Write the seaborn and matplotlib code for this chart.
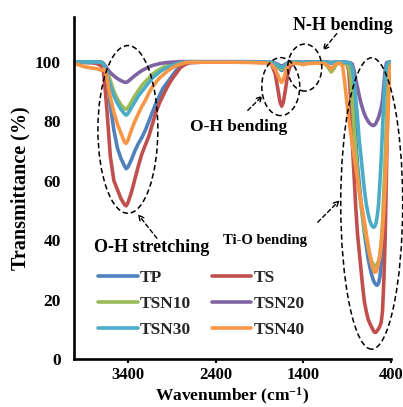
import numpy as np
import pandas as pd
import matplotlib
matplotlib.use("Agg")
import matplotlib.pyplot as plt
from matplotlib.patches import Ellipse
import seaborn as sns

# FTIR spectra of the TiO2-based samples (wavenumber in cm^-1, transmittance in %)
wavenumber = [
    4000, 3900, 3800, 3750, 3700, 3680, 3660, 3640, 3620, 3600, 3560, 3520, 3480, 3440, 3420, 3400,
    3360, 3320, 3280, 3240, 3200, 3160, 3120, 3080, 3040, 3000, 2950, 2900, 2850, 2800, 2750, 2700,
    2500, 2200, 2000, 1800, 1760, 1720, 1690, 1665, 1645, 1625, 1600, 1575, 1550, 1500, 1440, 1400,
    1360, 1250, 1150, 1110, 1080, 1050, 1020,
    980, 950, 930, 900, 880, 860, 840, 820, 800, 780, 760, 740, 720, 700, 680, 660, 640, 620, 600,
    585, 570, 555, 540, 525, 510, 495, 480, 465, 450, 435, 420, 410, 400,
]

tp = [
    99.8, 99.8, 99.7, 99.6, 99.5, 99, 97, 94.5, 90, 85, 77, 71, 67.5, 65, 64, 64.5,
    67, 70, 72.5, 74.5, 77, 80, 83, 86, 88.5, 91, 93, 95, 97, 98.5, 99.3, 99.8,
    99.9, 99.9, 99.9, 99.8, 99.6, 99, 98.2, 97.5, 97, 97.5, 98.5, 99.3, 99.7, 99.8, 99.8, 99.7,
    99.8, 99.8, 99.8, 99.7, 99.6, 99.7, 99.8,
    99.8, 99.8, 99.7, 99.5, 99.2, 99, 95, 84, 74, 65, 59, 52.5, 47, 42, 38, 34, 31, 28.5, 26.5,
    25.6, 25, 24.8, 25.5, 27.5, 32, 39, 50, 63, 76, 89, 97, 99.3, 99.6,
]

ts = [
    99.8, 99.7, 99.6, 99.3, 98.5, 97, 91, 84, 76, 68, 60, 57, 54, 52, 51.5, 52.5,
    56, 60.5, 65, 69, 72, 75, 79, 83, 86, 88.5, 91.5, 94, 96, 98, 99, 99.6,
    99.9, 99.9, 99.8, 99.7, 99, 96, 91, 86.5, 85, 86.5, 91, 96, 98.5, 99.5, 99.6, 99.5,
    99.6, 99.7, 99.7, 99.6, 99.5, 99.6, 99.7,
    99.8, 99.7, 99.5, 99, 97, 88.5, 73, 62, 51, 42, 36, 30, 24, 19, 16, 13.5, 12, 10.8, 9.6,
    9, 9, 9.5, 10.2, 11, 12.3, 16, 26, 40, 62, 85, 96, 99, 99.5,
]

tsn10 = [
    99.8, 99.8, 99.8, 99.8, 99.8, 99.5, 98.5, 97.3, 95.5, 93.5, 90, 87.5, 85.5, 84.2, 84, 84.5,
    86.5, 88.5, 90.3, 92, 93.3, 94.5, 95.7, 96.6, 97.4, 98, 98.6, 99.1, 99.5, 99.7, 99.9, 100,
    99.9, 99.9, 99.9, 99.8, 99.6, 99.1, 98.5, 97.8, 97.5, 97.8, 98.7, 99.4, 99.7, 99.8, 99.5, 99.2,
    99.5, 99.7, 99.4, 97.8, 96.5, 97.6, 99.2,
    99.8, 99.7, 99.5, 99.2, 98, 95, 87, 78, 69.5, 62, 56, 51.5, 47.5, 43.5, 40.5, 37.5, 35, 33, 31.8,
    31, 31.2, 32, 33, 34.5, 39, 46, 56, 66, 78, 91, 97.5, 99.2, 99.6,
]

tsn20 = [
    99.9, 99.9, 99.9, 99.9, 99.8, 99.3, 98.6, 97.8, 97, 96.3, 95.2, 94.3, 93.6, 93.1, 93, 93.3,
    94.3, 95.3, 96.2, 97, 97.6, 98.2, 98.7, 99, 99.3, 99.5, 99.7, 99.8, 99.9, 100, 100, 100,
    100, 100, 100, 99.9, 99.8, 99.5, 99.1, 98.7, 98.5, 98.7, 99.2, 99.6, 99.9, 99.9, 99.9, 99.7,
    99.9, 99.9, 99.9, 99.8, 99.7, 99.8, 99.9,
    99.9, 99.9, 99.9, 99.8, 99.7, 99.6, 99.2, 97, 94, 91.3, 88.5, 86, 84, 82.3, 81, 80, 79.2, 78.7, 78.5,
    78.7, 79.3, 80.2, 81.3, 82.8, 84.5, 87, 92, 97, 99.5, 99.8, 99.9, 99.9, 99.9,
]

tsn30 = [
    99.9, 99.9, 99.9, 99.9, 99.7, 99.3, 98, 96.5, 94, 92, 88.5, 86, 84, 82.5, 82, 82.5,
    84.5, 86.5, 88.5, 90, 91.5, 93, 94.5, 95.5, 96.5, 97.3, 98, 98.7, 99.2, 99.6, 99.8, 99.9,
    99.9, 99.9, 99.9, 99.9, 99.7, 99.3, 98.8, 98.3, 98, 98.3, 99, 99.5, 99.8, 99.9, 99.8, 99.6,
    99.8, 99.9, 99.9, 99.7, 99.5, 99.7, 99.9,
    99.9, 99.9, 99.8, 99.7, 99.6, 99.5, 98, 93.5, 87.5, 81, 73.5, 68, 62, 56.5, 52, 49, 46.5, 45, 44.3,
    44.5, 45.5, 48, 52, 59, 67, 77, 87, 94, 98.5, 99.5, 99.8, 99.9, 99.9,
]

tsn40 = [
    99.3, 98.3, 97.8, 97.6, 97, 97.5, 97, 95, 91, 88, 83, 79, 76, 73, 72.5, 73.5,
    77, 80, 82.5, 85, 87, 89.5, 91.5, 93, 94.5, 95.5, 96.8, 97.8, 98.6, 99.2, 99.6, 99.8,
    99.8, 99.8, 99.7, 99.5, 99, 97.5, 95.5, 93.8, 93, 94, 96.5, 98.5, 99.3, 99.5, 99.3, 99,
    99.3, 99.5, 99.3, 98.5, 97.5, 98.5, 99.3,
    99.5, 98.5, 94, 86, 81, 76.5, 72.5, 68.5, 64.5, 60.5, 56.5, 53, 49.5, 46, 42, 38.5, 35, 32, 30.2,
    29.2, 29.3, 30.5, 32.5, 35, 38.5, 43, 50, 58, 68, 80, 92, 97.5, 99,
]

samples = ["TP", "TS", "TSN10", "TSN20", "TSN30", "TSN40"]
colors = ["#4F81BD", "#C0504D", "#9BBB59", "#8064A2", "#4BACC6", "#F79646"]
series = [tp, ts, tsn10, tsn20, tsn30, tsn40]

df = pd.DataFrame({
    "Wavenumber": np.tile(wavenumber, len(samples)),
    "Transmittance": np.concatenate(series),
    "Sample": np.repeat(samples, len(wavenumber)),
})

sns.set_theme(style="white")
plt.rcParams["font.family"] = ["Liberation Serif", "DejaVu Serif"]
plt.rcParams["font.weight"] = "bold"
plt.rcParams["mathtext.fontset"] = "custom"
plt.rcParams["mathtext.rm"] = "Liberation Serif:bold"
plt.rcParams["mathtext.bf"] = "Liberation Serif:bold"
plt.rcParams["mathtext.default"] = "rm"

fig = plt.figure(figsize=(4.03, 4.07), dpi=100)
ax = fig.add_axes([0.1836, 0.1179, 0.7866, 0.8403])

sns.lineplot(data=df, x="Wavenumber", y="Transmittance", hue="Sample",
             hue_order=samples, palette=dict(zip(samples, colors)),
             sort=False, estimator=None, linewidth=2.6, ax=ax)

ax.set_xlim(4015, 398)
ax.set_ylim(0, 115)
ax.set_xticks([3400, 2400, 1400, 400])
ax.set_yticks([0, 20, 40, 60, 80, 100])

for side in ("top", "right"):
    ax.spines[side].set_visible(False)
for side in ("left", "bottom"):
    ax.spines[side].set_color("black")
    ax.spines[side].set_linewidth(1.9)

ax.tick_params(axis="both", which="major", direction="out", color="black",
               labelsize=12.5, labelcolor="black")
ax.tick_params(axis="y", length=4.3, width=1.5, pad=5.0)
ax.tick_params(axis="x", length=3.0, width=1.5, pad=3.0, labelsize=12,
               bottom=True)
for lab in ax.get_xticklabels() + ax.get_yticklabels():
    lab.set_fontweight("bold")

ax.set_xlabel("Wavenumber (cm$^{-1}$)", fontsize=12.5, fontweight="bold",
              color="black")
ax.xaxis.set_label_coords(0.5, -0.080)
ax.set_ylabel("Transmittance (%)", fontsize=14.5, fontweight="bold",
              color="black", labelpad=3)

# legend: two columns, TP/TSN10/TSN30 on the left, TS/TSN20/TSN40 on the right
handles, labels = ax.get_legend_handles_labels()
lookup = dict(zip(labels, handles))
order = ["TP", "TSN10", "TSN30", "TS", "TSN20", "TSN40"]
ax.legend([lookup[k] for k in order], order, ncol=2, frameon=False,
          loc="upper left", bbox_to_anchor=(0.243, 0.336),
          bbox_transform=fig.transFigure, borderpad=0, borderaxespad=0,
          handlelength=2.3, handletextpad=0.1, columnspacing=1.2,
          labelspacing=0.55, prop={"family": "Liberation Serif",
                                   "weight": "bold", "size": 12.5})

# dashed ellipses around the absorption bands
dash = (0, (3.5, 2))
bands = [
    (3400, 77.2, 684, 56.4),   # O-H stretching
    (1656, 91.6, 433, 19.5),   # O-H bending
    (1382, 98.0, 388, 15.8),   # N-H bending
    (618, 52.3, 707, 98.0),    # Ti-O bending
]
for cx, cy, w, h in bands:
    ax.add_patch(Ellipse((cx, cy), w, h, fill=False, edgecolor="black",
                         linewidth=1.1, linestyle=dash, clip_on=False, zorder=5))

arrow = dict(arrowstyle="->", color="black", lw=1.0, linestyle=(0, (3, 2)),
             shrinkA=0, shrinkB=0, mutation_scale=9)
notes = [
    ("O-H stretching", (3126, 37.6), 13, (3069, 40.6), (3286, 48.7)),
    ("O-H bending", (2135, 77.9), 12.5, (2032, 83.6), (1861, 88.6)),
    ("N-H bending", (949, 112.0), 13, (1017, 109.4), (1177, 103.7)),
    ("Ti-O bending", (1838, 39.9), 10.5, (1234, 46.0), (983, 53.4)),
]
for text, pos, size, tail, head in notes:
    ax.text(pos[0], pos[1], text, ha="center", va="center", fontsize=size,
            fontweight="bold", color="black", clip_on=False, zorder=6)
    ax.annotate("", xy=head, xytext=tail, arrowprops=arrow,
                annotation_clip=False, zorder=6)

fig.savefig("out.png", dpi=100)
